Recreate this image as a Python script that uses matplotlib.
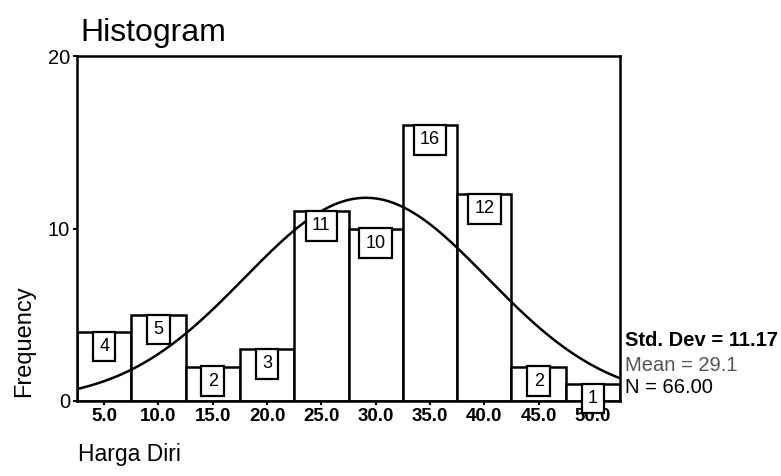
import numpy as np
import matplotlib.pyplot as plt

plt.rcParams["font.family"] = ["Liberation Sans", "DejaVu Sans"]

# bin centres and counts
centers = [5.0, 10.0, 15.0, 20.0, 25.0, 30.0, 35.0, 40.0, 45.0, 50.0]
counts = [4, 5, 2, 3, 11, 10, 16, 12, 2, 1]
tick_labels = ["5.0", "10.0", "15.0", "20.0", "25.0", "30.0", "35.0", "40.0", "45.0", "50.0"]
bin_width = 5.0

std_dev = 11.17
mean = 29.1
n = 66

fig = plt.figure(figsize=(7.81, 4.76), dpi=100)
ax = fig.add_axes([0.0986, 0.1576, 0.6954, 0.7244])

ax.bar(centers, counts, width=bin_width, color="white", edgecolor="black", linewidth=1.8)

# normal curve scaled to counts
xs = np.linspace(centers[0] - bin_width / 2, centers[-1] + bin_width / 2, 300)
pdf = np.exp(-0.5 * ((xs - mean) / std_dev) ** 2) / (std_dev * np.sqrt(2 * np.pi))
ax.plot(xs, pdf * n * bin_width, color="black", linewidth=1.8)

for c, h in zip(centers, counts):
    ax.text(c, h - 0.85, str(h), ha="center", va="center", fontsize=13, clip_on=False,
            bbox=dict(boxstyle="square,pad=0.35", facecolor="white", edgecolor="black", linewidth=1.6))

ax.set_xlim(centers[0] - bin_width / 2, centers[-1] + bin_width / 2)
ax.set_ylim(0, 20)
ax.set_xticks(centers)
ax.set_xticklabels(tick_labels, fontsize=13.5, fontweight="bold")
ax.set_yticks([0, 10, 20])
ax.set_yticklabels(["0", "10", "20"], fontsize=14.5)
ax.tick_params(axis="both", length=3, width=1.5, pad=2)
for s in ax.spines.values():
    s.set_linewidth(1.8)

fig.text(0.103, 0.93, "Histogram", fontsize=23, ha="left", va="center")
fig.text(0.031, 0.284, "Frequency", fontsize=17, rotation=90, ha="center", va="center")
fig.text(0.100, 0.045, "Harga Diri", fontsize=16.5, ha="left", va="center")

fig.text(0.80, 0.285, f"Std. Dev = {std_dev:.2f}", fontsize=14.5, fontweight="bold", ha="left", va="center")
fig.text(0.80, 0.233, f"Mean = {mean:.1f}", fontsize=14.5, color="#555555", ha="left", va="center")
fig.text(0.80, 0.185, f"N = {n:.2f}", fontsize=14.5, ha="left", va="center")

fig.savefig("out.png", dpi=100)
